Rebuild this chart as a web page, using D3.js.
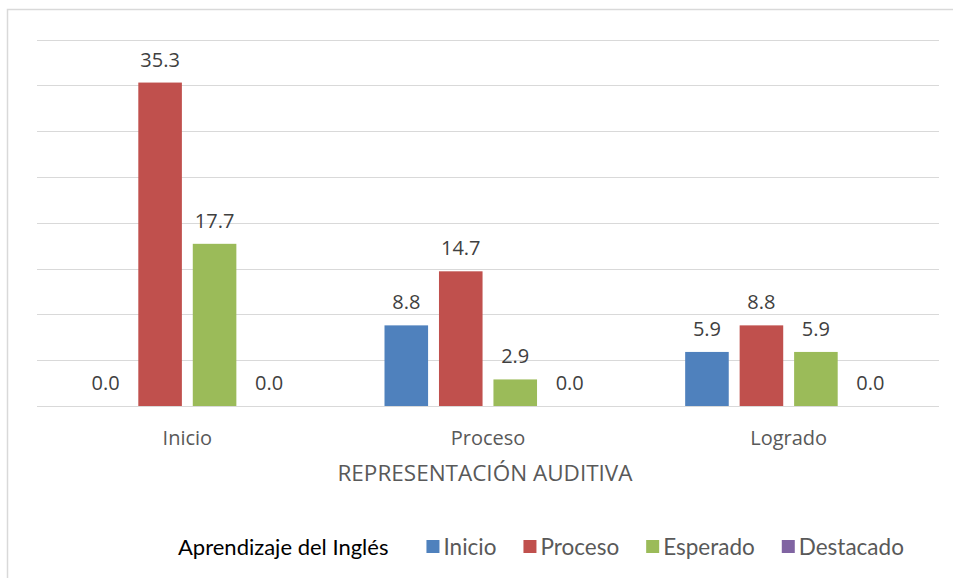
<!DOCTYPE html>
<html>
<head>
<meta charset="utf-8">
<script src="https://cdn.jsdelivr.net/npm/d3@7"></script>
<style>
  html, body { margin: 0; padding: 0; background: #fff; }
  svg { display: block; }
  .grid line { stroke: #d9d9d9; stroke-width: 1; }
  .value-label { font-family: "Open Sans", sans-serif; font-size: 20px; fill: #404040; }
  .cat-label { font-family: "Open Sans", sans-serif; font-size: 20px; fill: #595959; }
  .axis-title { font-family: "Open Sans", sans-serif; font-size: 22.5px; fill: #595959; }
  .legend-title { font-family: Lato, sans-serif; font-size: 22px; fill: #000; }
  .legend-text { font-family: Lato, sans-serif; font-size: 22.5px; fill: #595959; }
</style>
</head>
<body>
<svg id="chart" width="953" height="578"></svg>
<script>
const categories = ["Inicio", "Proceso", "Logrado"];
const series = ["Inicio", "Proceso", "Esperado", "Destacado"];
const colors = ["#4f81bd", "#c0504d", "#9bbb59", "#8064a2"];
// values per series, one per category
const inicioValues = [0.0, 8.8, 5.9];
const procesoValues = [35.3, 14.7, 8.8];
const esperadoValues = [17.7, 2.9, 5.9];
const destacadoValues = [0.0, 0.0, 0.0];
const seriesValues = [inicioValues, procesoValues, esperadoValues, destacadoValues];
const yTicks = [0, 5, 10, 15, 20, 25, 30, 35, 40];
const axisTitle = "REPRESENTACIÓN AUDITIVA";
const legendTitle = "Aprendizaje del Inglés";

const svg = d3.select("#chart");

// outer chart frame
svg.append("rect")
  .attr("x", 7.5)
  .attr("y", 9.5)
  .attr("width", 1000)
  .attr("height", 700)
  .attr("fill", "none")
  .attr("stroke", "#d9d9d9")
  .attr("stroke-width", 1.5);

const plot = { left: 37, right: 939, top: 39.5, bottom: 406 };

const x0 = d3.scaleBand().domain(categories).range([plot.left, plot.right]);
const groupPad = (x0.bandwidth() - 207) / 2;
const x1 = d3.scaleBand()
  .domain(series)
  .range([groupPad, x0.bandwidth() - groupPad])
  .paddingInner(0.2);
const y = d3.scaleLinear().domain([0, 40]).range([plot.bottom, plot.top]);

svg.append("g")
  .attr("class", "grid")
  .selectAll("line")
  .data(yTicks)
  .enter()
  .append("line")
  .attr("x1", plot.left)
  .attr("x2", plot.right)
  .attr("y1", (d) => Math.round(y(d)) + 0.5)
  .attr("y2", (d) => Math.round(y(d)) + 0.5);

const rows = [];
series.forEach((s, si) => {
  categories.forEach((c, ci) => {
    rows.push({ series: s, category: c, value: seriesValues[si][ci], color: colors[si] });
  });
});

svg.append("g")
  .selectAll("rect")
  .data(rows.filter((d) => d.value > 0))
  .enter()
  .append("rect")
  .attr("x", (d) => x0(d.category) + x1(d.series))
  .attr("y", (d) => y(d.value))
  .attr("width", x1.bandwidth())
  .attr("height", (d) => y(0) - y(d.value))
  .attr("fill", (d) => d.color);

svg.append("g")
  .selectAll("text")
  .data(rows)
  .enter()
  .append("text")
  .attr("class", "value-label")
  .attr("text-anchor", "middle")
  .attr("x", (d) => x0(d.category) + x1(d.series) + x1.bandwidth() / 2)
  .attr("y", (d) => y(d.value) - 16)
  .text((d) => d.value.toFixed(1));

svg.append("g")
  .selectAll("text")
  .data(categories)
  .enter()
  .append("text")
  .attr("class", "cat-label")
  .attr("text-anchor", "middle")
  .attr("x", (d) => x0(d) + x0.bandwidth() / 2)
  .attr("y", 445)
  .text((d) => d);

svg.append("text")
  .attr("class", "axis-title")
  .attr("text-anchor", "middle")
  .attr("x", 485)
  .attr("y", 481)
  .text(axisTitle);

// legend
const legend = svg.append("g");
const legendY = 555;
const titleEl = legend.append("text")
  .attr("class", "legend-title")
  .attr("x", 178)
  .attr("y", legendY)
  .text(legendTitle);
let cursor = 178 + titleEl.node().getComputedTextLength() + 38;
series.forEach((s, i) => {
  legend.append("rect")
    .attr("x", cursor)
    .attr("y", 540)
    .attr("width", 13)
    .attr("height", 13)
    .attr("fill", colors[i]);
  const t = legend.append("text")
    .attr("class", "legend-text")
    .attr("x", cursor + 17)
    .attr("y", legendY)
    .text(s);
  cursor += 17 + t.node().getComputedTextLength() + 27;
});
</script>
</body>
</html>
